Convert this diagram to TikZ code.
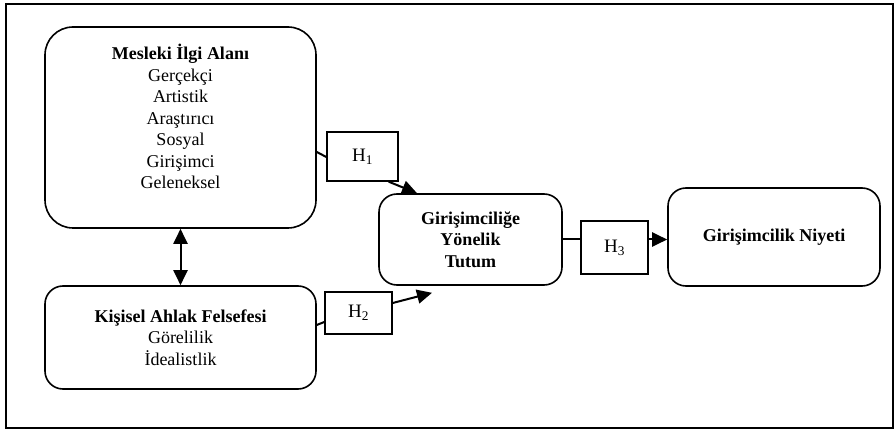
\documentclass[tikz,border=0pt]{standalone}
\usepackage{fontspec}
\setmainfont{Liberation Serif}
\usetikzlibrary{arrows.meta}
\tikzset{
  kutu/.style={draw, line width=1.6pt, rounded corners=18pt, align=center,
    font=\fontsize{18}{21.5}\selectfont, inner sep=0pt},
  hipotez/.style={draw, line width=1.4pt, inner sep=0pt,
    font=\fontsize{19}{22}\selectfont},
  baglanti/.style={line width=2pt},
  ok/.style={line width=2pt, -{Triangle[length=15pt,width=14pt]}},
}
\begin{document}
\begin{tikzpicture}[x=1pt,y=1pt,yscale=-1,xscale=1]
\useasboundingbox (0,0) rectangle (894,430);

%Shape: Frame
\draw [line width=2pt] (6,4) rectangle (893,428);

%Shape: Rounded boxes
\node [kutu, rounded corners=28pt, minimum width=271pt, minimum height=201pt] (meslek) at (180.5,127.5)
  {\textbf{Mesleki İlgi Alanı}\\ Gerçekçi\\ Artistik\\ Araştırıcı\\ Sosyal\\ Girişimci\\ Geleneksel\\ \mbox{}};
\node [kutu, minimum width=271pt, minimum height=103pt] (ahlak) at (180.5,337.5)
  {\textbf{Kişisel Ahlak Felsefesi}\\ Görelilik\\ İdealistlik};
\node [kutu, minimum width=183pt, minimum height=91pt] (tutum) at (470.5,239.5)
  {\textbf{Girişimciliğe}\\ \textbf{Yönelik}\\ \textbf{Tutum}};
\node [kutu, minimum width=212pt, minimum height=98pt] (niyet) at (774,237)
  {\textbf{Girişimcilik Niyeti}};

%Shape: Hypothesis boxes
\node [hipotez, minimum width=71pt, minimum height=49pt] (h1) at (362.5,156.5) {H\textsubscript{1}};
\node [hipotez, minimum width=67pt, minimum height=42pt] (h2) at (358.5,313) {H\textsubscript{2}};
\node [hipotez, minimum width=67pt, minimum height=53pt] (h3) at (614.5,247.5) {H\textsubscript{3}};

%Straight Lines
\draw [baglanti] ([yshift=24.5pt]meslek.east) -- ([yshift=0.5pt]h1.west);
\draw [ok] ([xshift=-10pt]h1.south east) -- ([xshift=-53.5pt]tutum.north);
\draw [baglanti] ([yshift=-12.5pt]ahlak.east) -- ([yshift=9pt]h2.west);
\draw [ok] ([yshift=-10pt]h2.east) -- ([shift={(-38.5pt,7pt)}]tutum.south);
\draw [baglanti] (tutum.east) -- (tutum.east -| h3.west);
\draw [ok] (h3.east |- tutum.east) -- (niyet.west |- tutum.east);
\draw [line width=2pt, {Triangle[length=15pt,width=14pt]}-{Triangle[length=15pt,width=14pt]}] (meslek.south) -- (ahlak.north);

\end{tikzpicture}
\end{document}
